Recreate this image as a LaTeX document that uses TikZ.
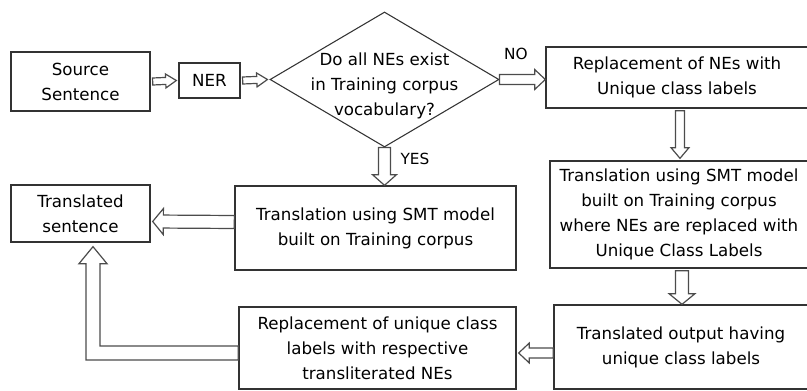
\documentclass[tikz,border=0pt]{standalone}
\usepackage{fontspec}
\setmainfont{DejaVu Sans}
\usetikzlibrary{shapes.geometric,calc,shadows}

\tikzset{
    box/.style={draw=black!80, line width=1pt, fill=white, align=center, inner sep=0pt,
        font=\fontsize{12.5}{18.75}\selectfont,
        drop shadow={opacity=0.25, shadow xshift=1pt, shadow yshift=-1pt}},
    txt/.style={align=center, inner sep=0pt, font=\fontsize{12.5}{18.75}\selectfont},
    tag/.style={inner sep=0pt, font=\fontsize{11.5}{14}\selectfont},
    hollow/.style={draw=black!70, fill=white, line width=0.9pt, line join=miter}
}

% hollow block arrow: [shaft half width in px] {from} {to}
\newcommand{\harrow}[3][5]{%
    \pgfmathsetmacro{\hs}{#1*0.75}%
    \pgfmathsetmacro{\hh}{#1*0.75*2}%
    \coordinate (ha) at #2;
    \coordinate (hb) at #3;
    \coordinate (hm) at ($(hb)!8pt!(ha)$);
    \draw[hollow] ($(ha)!\hs pt!90:(hb)$) -- ($(hm)!\hs pt!-90:(ha)$) -- ($(hm)!\hh pt!-90:(ha)$)
        -- (hb) -- ($(hm)!\hh pt!90:(ha)$) -- ($(hm)!\hs pt!90:(ha)$) -- ($(ha)!\hs pt!-90:(hb)$) -- cycle;
}

\begin{document}
\begin{tikzpicture}[x=0.75pt, y=-0.75pt]
    \useasboundingbox (0,0) rectangle (807,391);

    % Top row
    \node[box, minimum width=104.25pt, minimum height=44.25pt] (src) at (80.5,81.5) {Source\\Sentence};
    \node[box, minimum width=45.75pt, minimum height=26.25pt] (ner) at (209.5,80.5) {NER};
    \node[diamond, draw=black!80, line width=0.8pt, minimum width=171.75pt, minimum height=101.25pt, inner sep=0pt] (dec) at (384.5,79.5) {};
    \node[txt] (dectxt) at ($(dec.center)+(0,6)$) {Do all NEs exist\\in Training corpus\\vocabulary?};
    \node[box, minimum width=196.5pt, minimum height=45.75pt] (rep1) at (677,77.5) {Replacement of NEs with\\Unique class labels};

    % Middle row
    \node[box, minimum width=104.25pt, minimum height=42.75pt] (out) at (80.5,213.5) {Translated\\sentence};
    \node[box, minimum width=210.75pt, minimum height=63pt] (smt1) at (375.5,228) {Translation using SMT model\\built on Training corpus};
    \node[box, minimum width=193.5pt, minimum height=80.25pt] (smt2) at (679,214.5) {Translation using SMT model\\built on Training corpus\\where NEs are replaced with\\Unique Class Labels};

    % Bottom row
    \node[box, minimum width=207.75pt, minimum height=61.5pt] (rep2) at (377.5,348) {Replacement of unique class\\labels with respective\\transliterated NEs};
    \node[box, minimum width=190.5pt, minimum height=63pt] (tout) at (681,347) {Translated output having\\unique class labels};

    % Labels
    \node[tag] (no) at (516,54) {NO};
    \node[tag] (yes) at (415,159) {YES};

    % Arrows
    \harrow[3.5]{($(src.east)+(2,0)$)}{($(ner.west)+(-2,0)$)}
    \harrow[3.5]{($(ner.east)+(2,0)$)}{($(dec.west)+(-2,0)$)}
    \harrow[5]{(dec.east)}{(dec.east -| rep1.west)}
    \harrow[6]{(dec.south)}{(dec.south |- smt1.north)}
    \harrow[4.5]{($(rep1.south)+(3,2)$)}{($(rep1.south |- smt2.north)+(3,-2)$)}
    \harrow[6.5]{($(smt2.south)+(3,2)$)}{($(smt2.south |- tout.north)+(3,0)$)}
    \harrow[5]{($(tout.west)+(0,6)$)}{($(tout.west -| rep2.east)+(2,6)$)}
    \harrow[6.5]{($(smt1.west)+(0,-6)$)}{($(out.east)+(2,8)$)}

    % L-shaped arrow back to the translated sentence
    \coordinate (lstart) at ($(rep2.west)+(0,5)$);
    \coordinate (lend) at ($(out.south)+(12.5,4)$);
    \draw[hollow] ($(lstart)+(0,-7)$) -- ($(lend |- lstart)+(7,-7)$) -- ($(lend)+(7,17)$) -- ($(lend)+(14,17)$)
        -- (lend) -- ($(lend)+(-14,17)$) -- ($(lend)+(-7,17)$) -- ($(lend |- lstart)+(-7,7)$) -- ($(lstart)+(0,7)$) -- cycle;
\end{tikzpicture}
\end{document}
